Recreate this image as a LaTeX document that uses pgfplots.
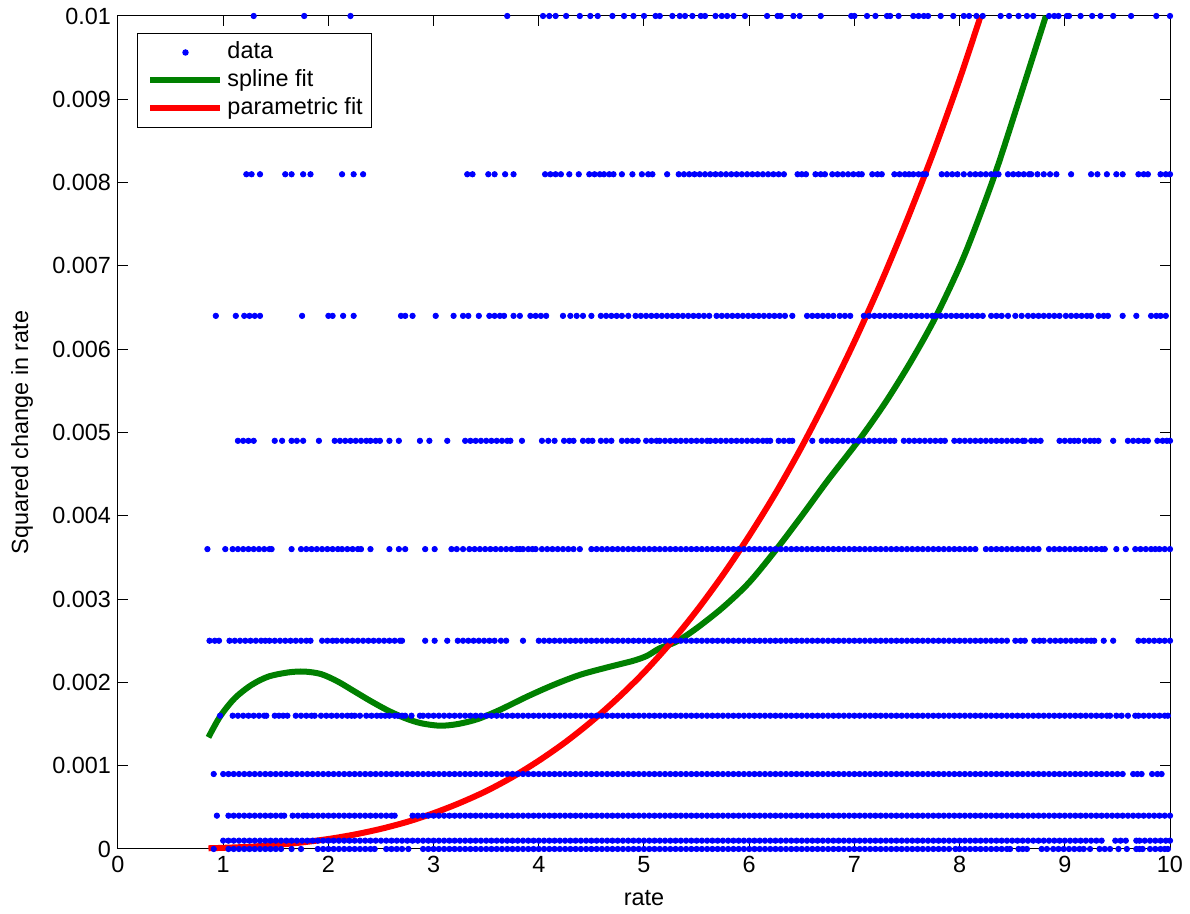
\documentclass[border=0pt]{standalone}
\usepackage{pgfplots}
\pgfplotsset{compat=1.18}
\usepackage{fontspec}
\setmainfont{Liberation Sans}
\definecolor{mgreen}{RGB}{0,128,0}
\definecolor{mblue}{RGB}{0,0,255}
\definecolor{mred}{RGB}{255,0,0}
\pgfplotsset{
  dat/.style={only marks,mark=*,mark size=1.35pt,color=mblue,mark options={draw=none,fill=mblue},
    legend image code/.code={\path[draw=none] (0pt,0pt) -- (39pt,0pt);\draw[##1] plot coordinates {(21.5pt,0pt)};}},
  fitline/.style={line width=3pt,smooth,
    legend image code/.code={\path[draw=none] (0pt,0pt) -- (39pt,0pt);\draw[##1] (4pt,0pt) -- (39pt,0pt);}},
}
\newcommand\lvl[2]{\addplot[dat,forget plot] table[row sep=\\,x index=0,y expr=#1]{#2};}
\begin{document}
\begin{tikzpicture}
\begin{axis}[
  scale only axis, width=526pt, height=416.5pt,
  xmin=0, xmax=10, ymin=0, ymax=0.01,
  xtick={0,1,2,3,4,5,6,7,8,9,10},
  xticklabels={0,1,2,3,4,5,6,7,8,9,10},
  ytick={0,0.001,0.002,0.003,0.004,0.005,0.006,0.007,0.008,0.009,0.01},
  yticklabels={0,0.001,0.002,0.003,0.004,0.005,0.006,0.007,0.008,0.009,0.01},
  scaled y ticks=false,
  tick align=inside, tick pos=both, major tick length=5pt,
  every tick/.style={black,line width=0.5pt},
  axis line style={line width=0.5pt},
  font=\fontsize{11.7}{14}\selectfont,
  tick label style={font=\fontsize{11.7}{14}\selectfont},
  xlabel={rate}, ylabel={Squared change in rate},
  every axis x label/.style={at={(rel axis cs:0.5,0)},anchor=center,yshift=-24.5pt},
  every axis y label/.style={at={(rel axis cs:0,0.5)},anchor=center,rotate=90,yshift=48pt},
  clip=false,
  legend cell align=left,
  legend style={at={(rel axis cs:0,1)},anchor=north west,xshift=9.5pt,yshift=-8.5pt,
    draw=black,line width=0.5pt,inner sep=2.5pt,column sep=0pt,row sep=0pt,
    font=\fontsize{11.7}{14}\selectfont,
    nodes={inner xsep=2pt,inner ysep=1.5pt,text height=8.5pt,text depth=2.5pt}},
]
% y = 0
\addplot[dat] table[row sep=\\,x index=0,y expr=0]{0.91\\1.05\\1.10\\1.15\\1.20\\1.25\\1.30\\1.35\\1.40\\1.45\\1.50\\1.55\\1.65\\1.74\\1.90\\1.95\\2.00\\2.05\\2.10\\2.15\\2.20\\2.25\\2.30\\2.35\\2.40\\2.44\\2.55\\2.60\\2.65\\2.70\\2.76\\2.90\\2.95\\
3.00\\3.05\\3.10\\3.15\\3.20\\3.25\\3.30\\3.35\\3.40\\3.45\\3.50\\3.55\\3.60\\3.65\\3.70\\3.75\\3.80\\3.85\\3.90\\3.95\\
4.00\\4.05\\4.10\\4.15\\4.20\\4.25\\4.30\\4.35\\4.40\\4.45\\4.50\\4.55\\4.60\\4.65\\4.70\\4.75\\4.80\\4.85\\4.90\\4.95\\
5.00\\5.05\\5.10\\5.15\\5.20\\5.25\\5.30\\5.35\\5.40\\5.45\\5.50\\5.55\\5.60\\5.65\\5.70\\5.75\\5.80\\5.85\\5.90\\5.95\\
6.00\\6.05\\6.10\\6.15\\6.20\\6.25\\6.30\\6.35\\6.40\\6.45\\6.50\\6.55\\6.60\\6.65\\6.70\\6.75\\6.80\\6.85\\6.90\\6.95\\
7.00\\7.05\\7.10\\7.15\\7.20\\7.25\\7.30\\7.35\\7.40\\7.45\\7.50\\7.55\\7.60\\7.65\\7.70\\7.75\\7.80\\7.85\\7.90\\7.96\\
8.00\\8.05\\8.10\\8.15\\8.20\\8.25\\8.30\\8.35\\8.40\\8.45\\8.48\\8.56\\8.60\\8.64\\8.78\\8.83\\8.89\\8.94\\8.99\\
9.04\\9.09\\9.14\\9.18\\9.24\\9.33\\9.38\\9.43\\9.51\\9.59\\9.68\\9.71\\9.74\\9.81\\9.86\\9.91\\9.95\\9.98\\};
\addlegendentry{data}
% y = 0.0001
\lvl{0.0001}{1.00\\1.05\\1.10\\1.15\\1.20\\1.25\\1.30\\1.35\\1.40\\1.45\\1.50\\1.55\\1.60\\1.65\\1.70\\1.75\\1.80\\1.85\\1.90\\1.95\\
2.00\\2.05\\2.10\\2.15\\2.20\\2.25\\2.30\\2.35\\2.40\\2.45\\2.50\\2.55\\2.60\\2.65\\2.70\\2.75\\2.80\\2.85\\2.90\\2.95\\
3.00\\3.05\\3.10\\3.15\\3.20\\3.25\\3.30\\3.35\\3.40\\3.45\\3.50\\3.55\\3.60\\3.65\\3.70\\3.75\\3.80\\3.85\\3.90\\3.95\\
4.00\\4.05\\4.10\\4.15\\4.20\\4.25\\4.30\\4.35\\4.40\\4.45\\4.50\\4.55\\4.60\\4.65\\4.70\\4.75\\4.80\\4.85\\4.90\\4.95\\
5.00\\5.05\\5.10\\5.15\\5.20\\5.25\\5.30\\5.35\\5.40\\5.45\\5.50\\5.55\\5.60\\5.65\\5.70\\5.75\\5.80\\5.85\\5.90\\5.95\\
6.00\\6.05\\6.10\\6.15\\6.20\\6.25\\6.30\\6.35\\6.40\\6.45\\6.50\\6.55\\6.60\\6.65\\6.70\\6.75\\6.80\\6.85\\6.90\\6.95\\
7.00\\7.05\\7.10\\7.15\\7.20\\7.25\\7.30\\7.35\\7.40\\7.45\\7.50\\7.55\\7.60\\7.65\\7.70\\7.75\\7.80\\7.85\\7.90\\7.95\\
8.00\\8.05\\8.10\\8.15\\8.20\\8.25\\8.30\\8.35\\8.40\\8.45\\8.50\\8.55\\8.60\\8.65\\8.70\\8.75\\8.80\\8.85\\8.90\\8.95\\
9.00\\9.05\\9.10\\9.15\\9.20\\9.25\\9.30\\9.35\\9.48\\9.53\\9.58\\9.68\\9.71\\9.76\\9.81\\9.86\\9.91\\9.96\\10.00\\}
% y = 0.0004
\lvl{0.0004}{0.94\\1.05\\1.10\\1.15\\1.20\\1.25\\1.30\\1.35\\1.40\\1.45\\1.50\\1.55\\1.58\\1.66\\1.71\\1.76\\1.80\\1.85\\1.90\\1.95\\
2.00\\2.05\\2.10\\2.15\\2.20\\2.25\\2.30\\2.35\\2.40\\2.45\\2.50\\2.55\\2.60\\2.63\\2.80\\2.85\\2.90\\2.95\\
3.00\\3.05\\3.10\\3.15\\3.20\\3.25\\3.30\\3.35\\3.40\\3.45\\3.50\\3.55\\3.60\\3.65\\3.70\\3.75\\3.80\\3.85\\3.90\\3.95\\
4.00\\4.05\\4.10\\4.15\\4.20\\4.25\\4.30\\4.35\\4.40\\4.45\\4.50\\4.55\\4.60\\4.65\\4.70\\4.75\\4.80\\4.85\\4.90\\4.95\\
5.00\\5.05\\5.10\\5.15\\5.20\\5.25\\5.30\\5.35\\5.40\\5.45\\5.50\\5.55\\5.60\\5.65\\5.70\\5.75\\5.80\\5.85\\5.90\\5.95\\
6.00\\6.05\\6.10\\6.15\\6.20\\6.25\\6.30\\6.35\\6.40\\6.45\\6.50\\6.55\\6.60\\6.65\\6.70\\6.75\\6.80\\6.85\\6.90\\6.95\\
7.00\\7.05\\7.10\\7.15\\7.20\\7.25\\7.30\\7.35\\7.40\\7.45\\7.50\\7.55\\7.60\\7.65\\7.70\\7.75\\7.80\\7.85\\7.90\\7.95\\
8.00\\8.05\\8.10\\8.15\\8.20\\8.25\\8.30\\8.35\\8.40\\8.45\\8.50\\8.55\\8.60\\8.65\\8.70\\8.75\\8.80\\8.85\\8.90\\8.95\\
9.00\\9.05\\9.10\\9.15\\9.20\\9.25\\9.30\\9.35\\9.40\\9.45\\9.50\\9.55\\9.60\\9.65\\9.70\\9.75\\9.80\\9.85\\9.90\\9.95\\10.00\\}
% y = 0.0009
\lvl{0.0009}{0.91\\1.00\\1.05\\1.10\\1.15\\1.20\\1.25\\1.30\\1.35\\1.40\\1.45\\1.50\\1.55\\1.60\\1.65\\1.70\\1.75\\1.80\\1.85\\1.90\\1.95\\
2.00\\2.05\\2.10\\2.15\\2.20\\2.25\\2.30\\2.35\\2.40\\2.45\\2.50\\2.55\\2.60\\2.65\\2.70\\2.75\\2.80\\2.85\\2.90\\2.95\\
3.00\\3.05\\3.10\\3.15\\3.20\\3.25\\3.30\\3.35\\3.40\\3.45\\3.50\\3.55\\3.60\\3.65\\3.70\\3.75\\3.80\\3.85\\3.90\\3.95\\
4.00\\4.05\\4.10\\4.15\\4.20\\4.25\\4.30\\4.35\\4.40\\4.45\\4.50\\4.55\\4.60\\4.65\\4.70\\4.75\\4.80\\4.85\\4.90\\4.95\\
5.00\\5.05\\5.10\\5.15\\5.20\\5.25\\5.30\\5.35\\5.40\\5.45\\5.50\\5.55\\5.60\\5.65\\5.70\\5.75\\5.80\\5.85\\5.90\\5.95\\
6.00\\6.05\\6.10\\6.15\\6.20\\6.25\\6.30\\6.35\\6.40\\6.45\\6.50\\6.55\\6.60\\6.65\\6.70\\6.75\\6.80\\6.85\\6.90\\6.95\\
7.00\\7.05\\7.10\\7.15\\7.20\\7.25\\7.30\\7.35\\7.40\\7.45\\7.50\\7.55\\7.60\\7.65\\7.70\\7.75\\7.80\\7.85\\7.90\\7.95\\
8.00\\8.05\\8.10\\8.15\\8.20\\8.25\\8.30\\8.35\\8.40\\8.45\\8.50\\8.55\\8.60\\8.65\\8.70\\8.75\\8.80\\8.85\\8.90\\8.95\\
9.00\\9.05\\9.10\\9.15\\9.20\\9.25\\9.30\\9.35\\9.40\\9.45\\9.50\\9.55\\9.65\\9.69\\9.73\\9.83\\9.88\\9.92\\}
% y = 0.0016
\lvl{0.0016}{0.97\\1.09\\1.14\\1.19\\1.24\\1.29\\1.34\\1.39\\1.41\\1.49\\1.53\\1.57\\1.61\\1.69\\1.74\\1.79\\1.84\\1.87\\1.93\\1.98\\
2.03\\2.08\\2.13\\2.18\\2.22\\2.25\\2.30\\2.36\\2.41\\2.46\\2.50\\2.54\\2.58\\2.63\\2.66\\2.70\\2.73\\2.79\\2.87\\2.90\\2.95\\
3.00\\3.05\\3.10\\3.15\\3.20\\3.25\\3.30\\3.35\\3.40\\3.45\\3.50\\3.55\\3.60\\3.65\\3.70\\3.75\\3.80\\3.85\\3.90\\3.95\\
4.00\\4.05\\4.10\\4.15\\4.20\\4.25\\4.30\\4.35\\4.40\\4.45\\4.50\\4.55\\4.60\\4.65\\4.70\\4.75\\4.80\\4.85\\4.90\\4.95\\
5.00\\5.05\\5.10\\5.15\\5.20\\5.25\\5.30\\5.35\\5.40\\5.45\\5.50\\5.55\\5.60\\5.65\\5.70\\5.75\\5.80\\5.85\\5.90\\5.95\\
6.00\\6.05\\6.10\\6.15\\6.20\\6.25\\6.30\\6.35\\6.40\\6.45\\6.50\\6.55\\6.60\\6.65\\6.70\\6.75\\6.80\\6.85\\6.90\\6.95\\
7.00\\7.05\\7.10\\7.15\\7.20\\7.25\\7.30\\7.35\\7.40\\7.45\\7.50\\7.55\\7.60\\7.65\\7.70\\7.75\\7.80\\7.85\\7.90\\7.95\\
8.00\\8.05\\8.10\\8.15\\8.20\\8.25\\8.30\\8.35\\8.40\\8.45\\8.50\\8.55\\8.60\\8.65\\8.70\\8.75\\8.80\\8.85\\8.90\\8.95\\
9.00\\9.05\\9.10\\9.15\\9.20\\9.25\\9.30\\9.35\\9.40\\9.43\\9.49\\9.54\\9.60\\9.67\\9.70\\9.75\\9.80\\9.85\\9.90\\9.95\\9.98\\}
% y = 0.0025
\lvl{0.0025}{0.87\\0.92\\0.96\\1.06\\1.11\\1.16\\1.21\\1.26\\1.31\\1.36\\1.40\\1.44\\1.49\\1.54\\1.59\\1.64\\1.69\\1.74\\1.79\\1.83\\
1.94\\1.99\\2.04\\2.08\\2.13\\2.18\\2.23\\2.28\\2.33\\2.38\\2.43\\2.48\\2.53\\2.58\\2.63\\2.68\\2.70\\2.92\\3.01\\3.13\\
3.23\\3.28\\3.33\\3.38\\3.43\\3.48\\3.53\\3.58\\3.64\\3.69\\3.85\\
4.00\\4.05\\4.10\\4.15\\4.20\\4.25\\4.30\\4.35\\4.40\\4.45\\4.50\\4.55\\4.60\\4.65\\4.70\\4.75\\4.80\\4.85\\4.90\\4.95\\
5.00\\5.05\\5.10\\5.15\\5.20\\5.25\\5.30\\5.35\\5.40\\5.45\\5.50\\5.55\\5.60\\5.65\\5.70\\5.75\\5.80\\5.85\\5.90\\5.95\\
6.00\\6.05\\6.10\\6.15\\6.20\\6.25\\6.30\\6.35\\6.40\\6.45\\6.50\\6.55\\6.60\\6.65\\6.70\\6.75\\6.80\\6.85\\6.90\\6.95\\
7.00\\7.05\\7.10\\7.15\\7.20\\7.25\\7.30\\7.35\\7.40\\7.45\\7.50\\7.55\\7.60\\7.65\\7.70\\7.75\\7.80\\7.85\\7.90\\7.95\\
8.00\\8.05\\8.10\\8.15\\8.20\\8.25\\8.30\\8.35\\8.40\\8.45\\8.53\\8.58\\8.62\\8.71\\8.76\\8.80\\8.86\\8.91\\8.96\\
9.01\\9.06\\9.11\\9.16\\9.21\\9.25\\9.28\\9.37\\9.46\\9.70\\9.75\\9.80\\9.85\\9.90\\9.95\\10.00\\}
% y = 0.0036
\lvl{0.0036}{0.85\\1.02\\1.09\\1.14\\1.19\\1.24\\1.29\\1.34\\1.39\\1.44\\1.46\\1.65\\1.74\\1.79\\1.84\\1.89\\1.94\\1.99\\2.04\\2.09\\
2.13\\2.18\\2.23\\2.28\\2.31\\2.40\\2.58\\2.67\\2.73\\2.92\\3.01\\3.17\\3.22\\3.28\\3.34\\3.39\\3.44\\3.49\\3.54\\3.59\\
3.64\\3.69\\3.74\\3.79\\3.82\\3.85\\3.90\\3.94\\3.97\\4.03\\4.08\\4.13\\4.18\\4.23\\4.28\\4.33\\4.39\\
4.50\\4.55\\4.60\\4.65\\4.70\\4.75\\4.80\\4.85\\4.90\\4.95\\
5.00\\5.05\\5.10\\5.15\\5.20\\5.25\\5.30\\5.35\\5.40\\5.45\\5.50\\5.55\\5.60\\5.65\\5.70\\5.75\\5.80\\5.85\\5.90\\5.95\\
6.00\\6.05\\6.10\\6.15\\6.20\\6.25\\6.30\\6.35\\6.40\\6.45\\6.50\\6.55\\6.60\\6.65\\6.70\\6.75\\6.80\\6.85\\6.90\\6.95\\
7.00\\7.05\\7.10\\7.15\\7.20\\7.25\\7.30\\7.35\\7.40\\7.45\\7.50\\7.55\\7.60\\7.65\\7.70\\7.75\\7.80\\7.85\\7.90\\7.95\\
8.00\\8.05\\8.10\\8.15\\8.25\\8.30\\8.35\\8.40\\8.45\\8.50\\8.55\\8.60\\8.65\\8.70\\8.75\\8.85\\8.90\\8.95\\
9.00\\9.05\\9.10\\9.15\\9.20\\9.25\\9.30\\9.35\\9.38\\9.49\\9.58\\9.67\\9.72\\9.77\\9.82\\9.86\\9.90\\9.95\\10.00\\}
% y = 0.0049
\lvl{0.0049}{1.14\\1.19\\1.24\\1.29\\1.49\\1.56\\1.65\\1.70\\1.76\\1.91\\2.06\\2.11\\2.16\\2.21\\2.26\\2.31\\2.36\\2.40\\2.45\\2.49\\
2.58\\2.67\\2.87\\2.96\\3.13\\3.30\\3.35\\3.40\\3.45\\3.50\\3.55\\3.60\\3.65\\3.70\\3.73\\3.84\\4.03\\4.09\\4.15\\4.24\\
4.29\\4.33\\4.42\\4.47\\4.51\\4.59\\4.64\\4.69\\4.79\\4.84\\4.89\\4.94\\5.02\\5.07\\5.12\\5.15\\5.20\\5.25\\5.30\\5.35\\
5.40\\5.45\\5.50\\5.55\\5.60\\5.63\\5.68\\5.73\\5.78\\5.83\\5.88\\5.93\\5.98\\6.03\\6.08\\6.13\\6.17\\6.20\\6.28\\6.33\\
6.38\\6.41\\6.60\\6.69\\6.74\\6.79\\6.84\\6.89\\6.94\\6.99\\7.04\\7.09\\7.14\\7.19\\7.24\\7.29\\7.34\\7.38\\7.47\\7.52\\
7.57\\7.62\\7.67\\7.72\\7.77\\7.82\\7.86\\7.95\\8.00\\8.05\\8.10\\8.15\\8.20\\8.25\\8.30\\8.35\\8.40\\8.45\\8.50\\8.55\\
8.60\\8.62\\8.68\\8.72\\8.77\\8.95\\9.00\\9.05\\9.09\\9.13\\9.19\\9.24\\9.28\\9.32\\9.46\\9.60\\9.65\\9.70\\9.75\\9.79\\
9.88\\9.93\\9.97\\10.00\\}
% y = 0.0064
\lvl{0.0064}{0.93\\1.12\\1.20\\1.25\\1.30\\1.35\\1.75\\2.00\\2.04\\2.14\\2.24\\2.69\\2.73\\2.80\\3.02\\3.19\\3.28\\3.33\\3.43\\3.53\\
3.58\\3.63\\3.67\\3.76\\3.82\\3.92\\3.97\\4.02\\4.07\\4.23\\4.30\\4.36\\4.42\\4.50\\4.59\\4.64\\4.69\\4.74\\4.79\\4.85\\
4.92\\4.97\\5.02\\5.07\\5.12\\5.17\\5.22\\5.27\\5.32\\5.37\\5.42\\5.47\\5.52\\5.57\\5.62\\5.69\\5.74\\5.79\\5.84\\5.89\\
5.94\\5.99\\6.04\\6.09\\6.14\\6.19\\6.24\\6.29\\6.34\\6.41\\6.55\\6.60\\6.65\\6.70\\6.75\\6.80\\6.86\\6.91\\6.96\\7.09\\
7.14\\7.19\\7.24\\7.29\\7.34\\7.39\\7.44\\7.49\\7.54\\7.59\\7.64\\7.69\\7.74\\7.77\\7.82\\7.87\\7.92\\7.97\\8.02\\8.07\\
8.12\\8.17\\8.22\\8.30\\8.35\\8.40\\8.46\\8.53\\8.59\\8.65\\8.70\\8.75\\8.80\\8.85\\8.90\\8.95\\9.01\\9.06\\9.11\\9.16\\
9.21\\9.25\\9.32\\9.37\\9.41\\9.55\\9.68\\9.82\\9.87\\9.91\\9.96\\}
% y = 0.0081
\lvl{0.0081}{1.22\\1.27\\1.35\\1.59\\1.65\\1.76\\1.83\\2.13\\2.24\\2.33\\3.32\\3.37\\3.52\\3.58\\3.68\\3.76\\4.06\\4.11\\4.16\\4.21\\
4.29\\4.38\\4.48\\4.53\\4.58\\4.62\\4.67\\4.71\\4.79\\4.89\\4.98\\5.04\\5.08\\5.22\\5.33\\5.38\\5.43\\5.48\\5.53\\5.58\\
5.63\\5.68\\5.73\\5.78\\5.83\\5.88\\5.93\\5.98\\6.03\\6.08\\6.13\\6.18\\6.23\\6.28\\6.33\\6.46\\6.50\\6.54\\6.63\\6.68\\
6.72\\6.79\\6.84\\6.89\\6.94\\6.99\\7.04\\7.07\\7.17\\7.22\\7.26\\7.38\\7.43\\7.48\\7.52\\7.56\\7.61\\7.65\\7.68\\7.83\\
7.88\\7.93\\7.98\\8.04\\8.10\\8.15\\8.20\\8.25\\8.30\\8.34\\8.37\\8.46\\8.51\\8.56\\8.61\\8.66\\8.68\\8.74\\8.80\\8.86\\
8.92\\9.06\\9.25\\9.31\\9.40\\9.49\\9.55\\9.70\\9.75\\9.79\\9.91\\9.96\\10.00\\}
% y = 0.01
\lvl{0.01}{1.29\\1.77\\2.21\\3.70\\4.04\\4.10\\4.16\\4.26\\4.39\\4.49\\4.56\\4.70\\4.81\\4.90\\5.00\\5.11\\5.15\\5.27\\5.34\\5.39\\
5.46\\5.54\\5.58\\5.68\\5.74\\5.79\\5.85\\5.96\\6.17\\6.27\\6.30\\6.42\\6.48\\6.68\\6.97\\7.00\\7.12\\7.20\\7.31\\7.34\\
7.42\\7.56\\7.61\\7.66\\7.70\\7.82\\7.94\\8.04\\8.09\\8.16\\8.22\\8.39\\8.47\\8.56\\8.64\\8.70\\8.85\\8.90\\8.94\\9.02\\
9.04\\9.15\\9.26\\9.34\\9.46\\9.63\\9.87\\10.00\\}
% spline fit
\addplot[fitline,color=mgreen] coordinates {(0.86,0.00134)(0.97,0.00159)(1.11,0.00181)(1.27,0.00197)(1.43,0.00207)(1.62,0.00212)(1.77,0.00213)(1.93,0.00210)(2.09,0.00201)(2.25,0.00189)(2.41,0.00177)(2.57,0.00166)(2.73,0.00157)(2.88,0.00151)(3.06,0.00148)(3.23,0.00150)(3.42,0.00156)(3.63,0.00167)(3.89,0.00183)(4.14,0.00197)(4.39,0.00209)(4.65,0.00218)(4.90,0.00226)(5.03,0.00232)(5.15,0.00241)(5.31,0.00249)(5.50,0.00265)(5.75,0.00290)(6.00,0.00320)(6.26,0.00360)(6.50,0.00400)(6.75,0.00443)(7.05,0.00492)(7.30,0.00537)(7.55,0.00588)(7.79,0.00643)(8.05,0.00714)(8.33,0.00808)(8.55,0.00893)(8.82,0.01000)};
\addlegendentry{spline fit}
% parametric fit
\addplot[fitline,color=mred] coordinates {(0.86,0.0000086)(1.00,0.000014)(1.25,0.000027)(1.50,0.000049)(1.75,0.000079)(2.00,0.00012)(2.25,0.000174)(2.50,0.000242)(2.75,0.000326)(3.00,0.00043)(3.25,0.000553)(3.50,0.000695)(3.75,0.000864)(4.00,0.00106)(4.25,0.00128)(4.50,0.00153)(4.75,0.00181)(5.00,0.00212)(5.25,0.00247)(5.50,0.00286)(5.75,0.00329)(6.00,0.00376)(6.25,0.00427)(6.50,0.00483)(6.75,0.00544)(7.00,0.00609)(7.25,0.00679)(7.50,0.00755)(7.75,0.00836)(8.00,0.00924)(8.20,0.01000)};
\addlegendentry{parametric fit}
\coordinate (O) at (rel axis cs:0,0);
\coordinate (T) at (rel axis cs:1,1);
\end{axis}
\pgfresetboundingbox
\path[use as bounding box] ([xshift=-59pt,yshift=-32.5pt]O) rectangle ([xshift=10pt,yshift=8pt]T);
\end{tikzpicture}
\end{document}
